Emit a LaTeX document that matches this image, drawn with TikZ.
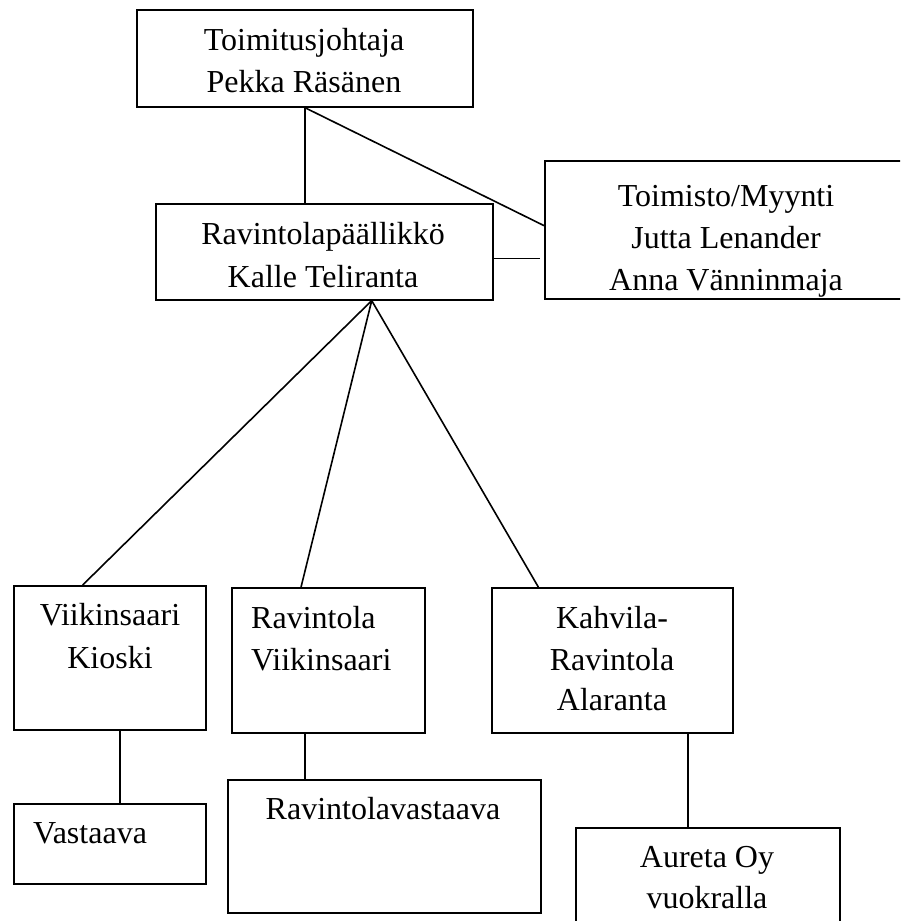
\documentclass[tikz,border=0pt]{standalone}
\usepackage{fontspec}
\setmainfont{Liberation Serif}
\usetikzlibrary{calc}
\begin{document}
\begin{tikzpicture}[x=1pt,y=-1pt,
  box/.style={draw, line width=1.6pt, inner sep=0pt, anchor=north west},
  txt/.style={font=\fontsize{32}{43}\selectfont, inner sep=0pt, anchor=base},
  txtl/.style={txt, anchor=base west},
  conn/.style={line width=1.6pt}]
\useasboundingbox (0,0) rectangle (900,921);
\clip (0,0) rectangle (900,921);
% boxes
\node[box, minimum width=336pt, minimum height=97pt] (top) at (136,9) {};
\node[box, minimum width=337pt, minimum height=96pt] (rav) at (155,203) {};
\node[box, minimum width=364pt, minimum height=138pt] (toim) at (544,160) {};
\node[box, minimum width=192pt, minimum height=144pt] (kio) at (13,585) {};
\node[box, minimum width=193pt, minimum height=145pt] (rvk) at (231,587) {};
\node[box, minimum width=241pt, minimum height=145pt] (kah) at (491,587) {};
\node[box, minimum width=192pt, minimum height=80pt] (vas) at (13,803) {};
\node[box, minimum width=313pt, minimum height=133pt] (rvv) at (227,779) {};
\node[box, minimum width=264pt, minimum height=110pt] (aur) at (575,827) {};
% texts
\node[txt] (topa) at (304,50) {Toimitusjohtaja};
\node[txt] (topb) at (304,92) {Pekka Räsänen};
\node[txt] (rava) at (323,244) {Ravintolapäällikkö};
\node[txt] (ravb) at (323,287) {Kalle Teliranta};
\node[txt] (toima) at (726,206) {Toimisto/Myynti};
\node[txt] (toimb) at (726,248) {Jutta Lenander};
\node[txt] (toimc) at (726,290) {Anna Vänninmaja};
\node[txt] (kioa) at (110,625) {Viikinsaari};
\node[txt] (kiob) at (110,668) {Kioski};
\node[txtl] (rvka) at (251,628) {Ravintola};
\node[txtl] (rvkb) at (251,670) {Viikinsaari};
\node[txt] (kaha) at (612,628) {Kahvila-};
\node[txt] (kahb) at (612,670) {Ravintola};
\node[txt] (kahc) at (612,710) {Alaranta};
\node[txtl] (vasa) at (33,843) {Vastaava};
\node[txt] (rvva) at (383,819) {Ravintolavastaava};
\node[txt] (aura) at (707,867) {Aureta Oy};
\node[txt] (aurb) at (707,908) {vuokralla};
% connector points
\coordinate (apex) at ($(rav.south west)!0.64!(rav.south east)$);
\coordinate (toimdiag) at ($(toim.north west)!0.47!(toim.south west)$);
\coordinate (ravside) at ($(rav.north east)!0.57!(rav.south east)$);
\coordinate (kiotop) at ($(kio.north west)!0.36!(kio.north east)$);
\coordinate (rvktop) at ($(rvk.north west)!0.36!(rvk.north east)$);
\coordinate (kahtop) at ($(kah.north west)!0.195!(kah.north east)$);
\coordinate (kiobot) at ($(kio.south west)+(107,0)$);
\coordinate (rvkbot) at ($(rvk.south west)+(74,0)$);
\coordinate (kahbot) at ($(kah.south west)+(197,0)$);
% connectors
\draw[conn] (top.south) -- (top.south |- rav.north);
\draw[conn] (top.south) -- (toimdiag);
\draw[conn, shorten >=4pt] (ravside) -- (toim.west |- ravside);
\draw[conn] (apex) -- (kiotop);
\draw[conn] (apex) -- (rvktop);
\draw[conn] (apex) -- (kahtop);
\draw[conn] (kiobot) -- (kiobot |- vas.north);
\draw[conn] (rvkbot) -- (rvkbot |- rvv.north);
\draw[conn] (kahbot) -- (kahbot |- aur.north);
\end{tikzpicture}
\end{document}
